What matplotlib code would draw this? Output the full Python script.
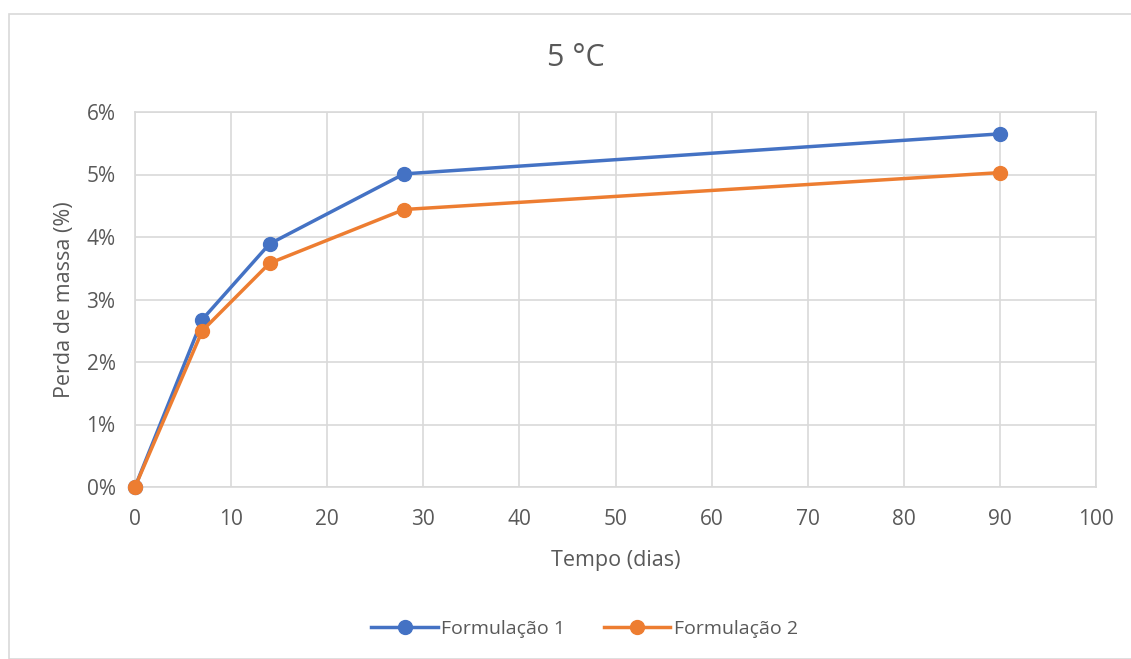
import matplotlib.pyplot as plt
from matplotlib.patches import Rectangle
from matplotlib.ticker import FuncFormatter, MultipleLocator

dias = [0, 7, 14, 28, 90]
form1 = [0.0, 2.68, 3.89, 5.01, 5.65]
form2 = [0.0, 2.50, 3.58, 4.44, 5.03]

plt.rcParams['font.family'] = ['Open Sans', 'DejaVu Sans']
txt = '#595959'
W, H = 1131, 659

fig = plt.figure(figsize=(W/100, H/100), dpi=100)
# outer chart border (cut off on right and bottom)
fig.patches.append(Rectangle((9/W, 0), 1.2, 1 - 14/H, transform=fig.transFigure,
                             fill=False, edgecolor='#d9d9d9', linewidth=1.2))

ax = fig.add_axes([135/W, 1 - 487/H, (1096 - 135)/W, (487 - 112)/H])
ax.plot(dias, form1, color='#4472c4', marker='o', markersize=10, linewidth=2.5,
        label='Formulação 1', zorder=3, clip_on=False)
ax.plot(dias, form2, color='#ed7d31', marker='o', markersize=10, linewidth=2.5,
        label='Formulação 2', zorder=4, clip_on=False)

ax.set_xlim(0, 100)
ax.set_ylim(0, 6)
ax.xaxis.set_major_locator(MultipleLocator(10))
ax.yaxis.set_major_locator(MultipleLocator(1))
ax.yaxis.set_major_formatter(FuncFormatter(lambda v, p: '%d%%' % round(v)))
ax.grid(color='#d9d9d9', linewidth=1.2)
ax.set_axisbelow(True)
for s in ax.spines.values():
    s.set_color('#d9d9d9')
    s.set_linewidth(1.2)
ax.tick_params(length=0, labelsize=15, colors=txt)
ax.tick_params(axis='x', pad=16)
ax.tick_params(axis='y', pad=14)

ax.set_xlabel('Tempo (dias)', fontsize=15.5, color=txt, labelpad=14)
ax.set_ylabel('Perda de massa (%)', fontsize=15.5, color=txt, labelpad=8)
fig.text(576/W, 1 - 58/H, '5 °C', fontsize=22, color=txt,
         ha='center', va='center')

fig.legend(loc='center', bbox_to_anchor=(585/W, 1 - 629/H), ncol=2, frameon=False,
           fontsize=14, labelcolor=txt, handlelength=3.4, handletextpad=0.2,
           columnspacing=2.0)

plt.savefig('out.png', dpi=100)
